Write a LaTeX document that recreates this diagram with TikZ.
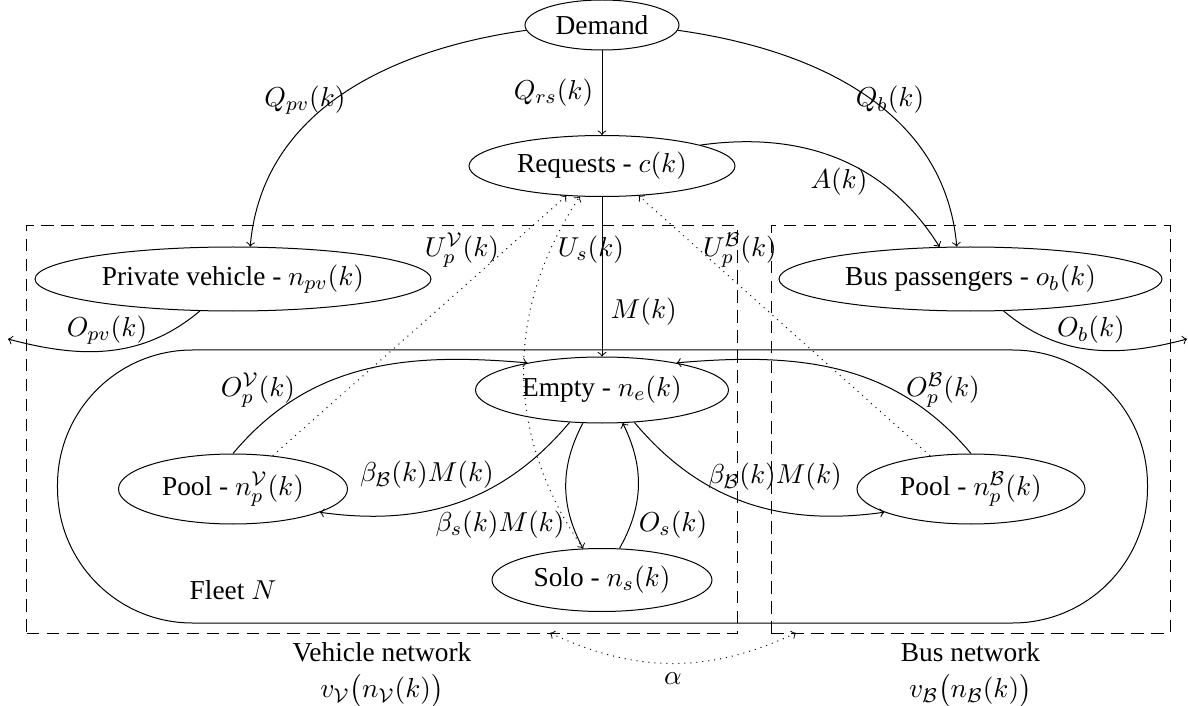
\documentclass[tikz,border=0pt]{standalone}
\usepackage{amsmath}
\usepackage{fontspec}
\setmainfont{Liberation Serif}
\usetikzlibrary{shapes.geometric,positioning}

\tikzset{
  stock/.style 2 args={ellipse, draw, inner sep=0pt, minimum width=#1, minimum height=#2},
  flow/.style={->},
  info/.style={->, dotted},
  netbox/.style={draw, dash pattern=on 5pt off 3pt, inner sep=0pt, minimum width=#1, minimum height=162.8pt},
  fleetbox/.style={draw, rounded corners=54pt, inner sep=0pt, minimum width=436pt, minimum height=109.2pt},
}
\newcommand{\cV}{\mathcal{V}}
\newcommand{\cB}{\mathcal{B}}

\begin{document}
\begin{tikzpicture}[x=0.4pt, y=-0.4pt, font=\fontsize{10.95}{13.6}\selectfont]
  \useasboundingbox (0,0) rectangle (1188,706);

  % the two networks and the fleet
  \node[netbox=284pt] (vnet) at (382,429.5) {};
  \node[netbox=159.6pt] (bnet) at (970.5,429.5) {};
  \node[fleetbox] (fleet) at (602.5,486.5) {};
  \node[align=center, below=0pt of vnet] (vlab) {Vehicle network\\[1pt]$v_{\cV}\big(n_{\cV}(k)\big)$};
  \node[align=center, below=0pt of bnet] (blab) {Bus network\\[1pt]$v_{\cB}\big(n_{\cB}(k)\big)$};
  \node (flab) at (233,590) {Fleet $N$};

  % states
  \node[stock={61.6pt}{20pt}] (dem) at (602,25) {Demand};
  \node[stock={106.4pt}{24.4pt}] (req) at (602,166) {Requests - $c(k)$};
  \node[stock={158.4pt}{25.6pt}] (pv) at (233,279) {Private vehicle - $n_{pv}(k)$};
  \node[stock={153.2pt}{25.6pt}] (bus) at (970.5,279) {Bus passengers - $o_b(k)$};
  \node[stock={101.2pt}{26.4pt}] (emp) at (602,390) {Empty - $n_e(k)$};
  \node[stock={91.6pt}{28pt}] (poolv) at (233,489) {Pool - $n_p^{\cV}(k)$};
  \node[stock={91.2pt}{28pt}] (poolb) at (971,489) {Pool - $n_p^{\cB}(k)$};
  \node[stock={88pt}{25.2pt}] (solo) at (602,580) {Solo - $n_s(k)$};

  % demand and outflows
  \coordinate (pvout) at (8,339);
  \coordinate (busout) at (1187,339);
  \draw[flow] (dem) -- node[left] {$Q_{rs}(k)$} (req);
  \draw[flow] (dem.184) to[out=188, in=85] (pv.62);
  \draw[flow] (dem.-4) to[out=-8, in=95] (bus.113);
  \draw[flow] (req.12) to[out=8, in=122] (bus.134);
  \draw[flow] (req) -- node[right, pos=0.72] {$M(k)$} (emp);
  \draw[flow] (pv.224) to[out=220, in=-15] (pvout);
  \draw[flow] (bus.-44) to[out=-40, in=195] (busout);
  \node (lqpv) at (305,100) {$Q_{pv}(k)$};
  \node (lqb) at (890,100) {$Q_b(k)$};
  \node (la) at (839,182) {$A(k)$};
  \node (lopv) at (107,330) {$O_{pv}(k)$};
  \node (lob) at (1091,330) {$O_b(k)$};

  % moves inside the fleet
  \draw[flow] (poolv.north) to[out=50, in=175] (emp.160);
  \draw[flow] (poolb.north) to[out=130, in=5] (emp.20);
  \draw[flow] (emp.225) to[out=230, in=-8] (poolv.-15);
  \draw[flow] (emp.-45) to[out=-50, in=188] (poolb.195);
  \draw[flow] (emp.240) to[bend right=28] (solo.121);
  \draw[flow] (solo.61) to[bend right=28] (emp.-58);
  \node (lopv2) at (258,390) {$O_p^{\cV}(k)$};
  \node (lopb2) at (943,390) {$O_p^{\cB}(k)$};
  \node (lbbv) at (427,475) {$\beta_{\cB}(k)M(k)$};
  \node (lbbb) at (775,477) {$\beta_{\cB}(k)M(k)$};
  \node (lbs) at (500,525) {$\beta_s(k)M(k)$};
  \node (los) at (673,525) {$O_s(k)$};

  % requests served
  \draw[info] (poolv.40) -- (req.220);
  \draw[info] (solo.121) to[bend left=34] (req.234);
  \draw[info] (poolb.141) -- (req.321);
  \node (lupv) at (462,250) {$U_p^{\cV}(k)$};
  \node (lus) at (591,250) {$U_s(k)$};
  \node (lupb) at (740,250) {$U_p^{\cB}(k)$};

  % exchange between the networks
  \coordinate (al) at (550,633);
  \coordinate (ar) at (796,633);
  \draw[info, <->] (al) to[bend right=25] node[below] {$\alpha$} (ar);
\end{tikzpicture}
\end{document}
